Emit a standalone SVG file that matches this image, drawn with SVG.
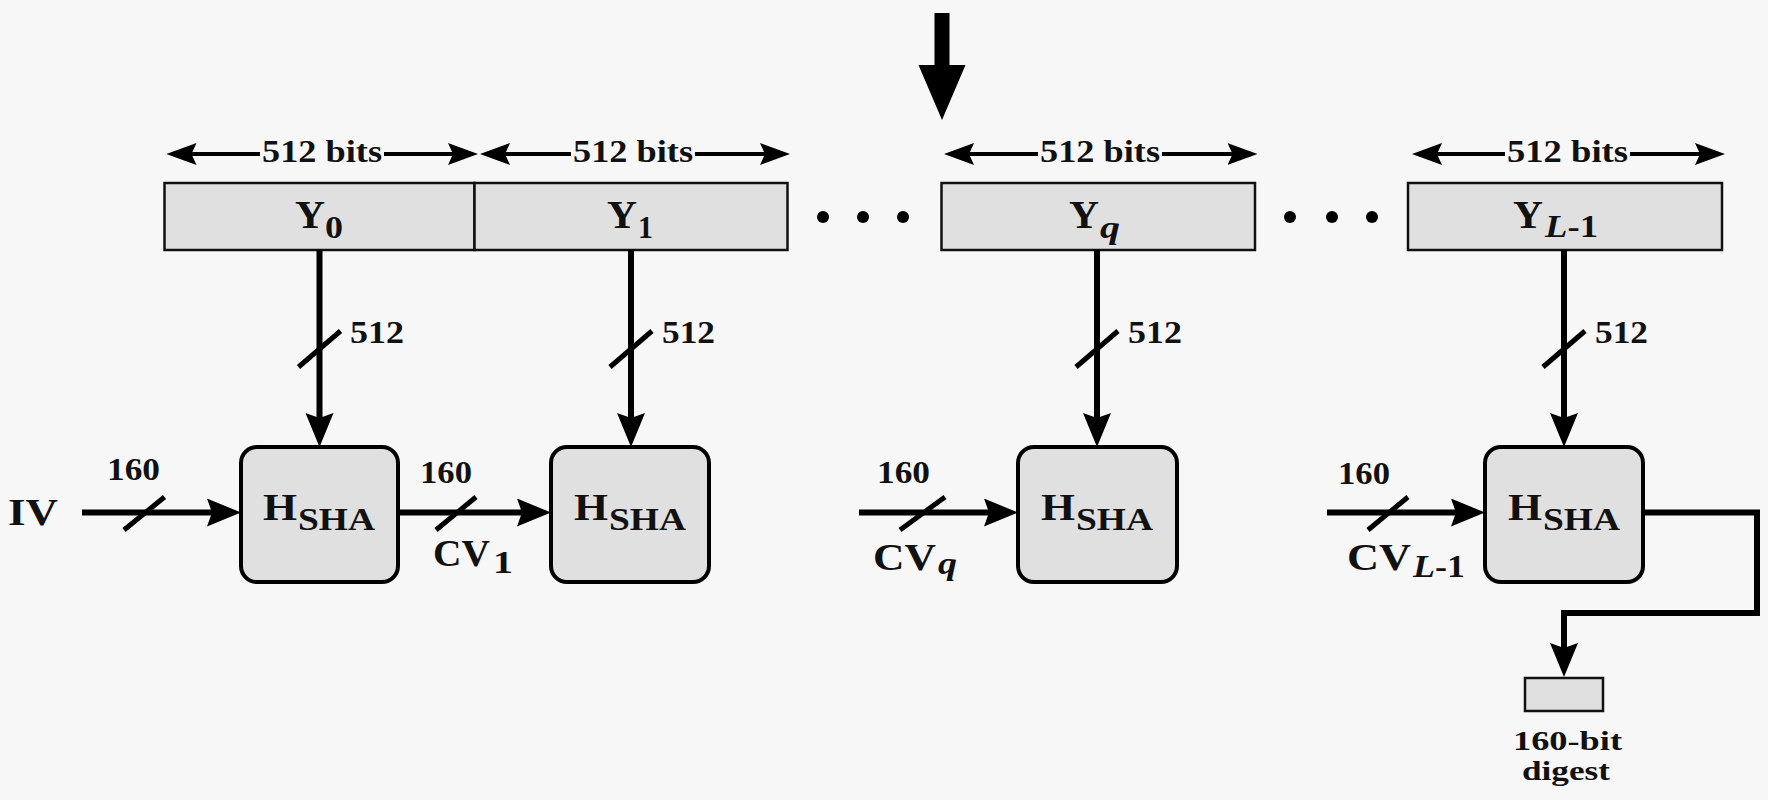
<svg xmlns="http://www.w3.org/2000/svg" width="1768" height="800" viewBox="0 0 1768 800" font-family="Liberation Serif, Times New Roman, serif" font-weight="bold">
<defs>
<style>
.t{fill:#111}
.big{font-size:40px}
.h{font-size:38px}
.sub{font-size:31px}
.num{font-size:32px}
.sm{font-size:28px}
.it{font-style:italic}
.blk{fill:#e0e0e0;stroke:#111;stroke-width:2.5}
.hsha{fill:#e0e0e0;stroke:#000;stroke-width:4}
.ln{fill:none;stroke:#000;stroke-width:6}
.dim{fill:none;stroke:#000;stroke-width:4}
.sl{stroke:#000;stroke-width:5;stroke-linecap:butt}
.dot{fill:#000}
</style>
<marker id="ah" markerUnits="userSpaceOnUse" viewBox="0 0 34 28" markerWidth="34" markerHeight="28" refX="20" refY="14" orient="auto">
<path d="M0,0 L34,14 L0,28 L5,14 z" fill="#000"/>
</marker>
<marker id="dh" markerUnits="userSpaceOnUse" viewBox="0 0 30 22" markerWidth="30" markerHeight="22" refX="18" refY="11" orient="auto">
<path d="M0,0 L30,11 L0,22 L5,11 z" fill="#000"/>
</marker>
</defs>
<rect width="1768" height="800" fill="#f7f7f7"/>

<g id="input-arrow">
<path d="M934.5,13 H949.5 V65 H965.5 L942,120 L918.5,65 H934.5 Z" fill="#000"/>
</g>

<g id="dimensions">
<line class="dim" x1="260" y1="154" x2="178.5" y2="154" marker-end="url(#dh)"/>
<line class="dim" x1="384" y1="154" x2="466" y2="154" marker-end="url(#dh)"/>
<text class="t num" x="262" y="162" textLength="120" lengthAdjust="spacingAndGlyphs">512 bits</text>
<line class="dim" x1="571" y1="154" x2="492" y2="154" marker-end="url(#dh)"/>
<line class="dim" x1="695" y1="154" x2="778" y2="154" marker-end="url(#dh)"/>
<text class="t num" x="573" y="162" textLength="120" lengthAdjust="spacingAndGlyphs">512 bits</text>
<line class="dim" x1="1038" y1="154" x2="956" y2="154" marker-end="url(#dh)"/>
<line class="dim" x1="1162" y1="154" x2="1245.5" y2="154" marker-end="url(#dh)"/>
<text class="t num" x="1040" y="162" textLength="120" lengthAdjust="spacingAndGlyphs">512 bits</text>
<line class="dim" x1="1505" y1="154" x2="1424" y2="154" marker-end="url(#dh)"/>
<line class="dim" x1="1630" y1="154" x2="1713" y2="154" marker-end="url(#dh)"/>
<text class="t num" x="1507" y="162" textLength="121" lengthAdjust="spacingAndGlyphs">512 bits</text>
</g>

<g id="Y0">
<rect class="blk" x="164.5" y="183" width="310" height="67"/>
<text class="t big" x="295" y="228" textLength="30" lengthAdjust="spacingAndGlyphs">Y</text>
<text class="t sub" x="325" y="238" textLength="18" lengthAdjust="spacingAndGlyphs">0</text>
</g>
<g id="Y1">
<rect class="blk" x="474.5" y="183" width="313" height="67"/>
<text class="t big" x="607" y="228" textLength="30" lengthAdjust="spacingAndGlyphs">Y</text>
<text class="t sub" x="638" y="238" textLength="15" lengthAdjust="spacingAndGlyphs">1</text>
</g>
<g id="dots1">
<circle class="dot" cx="823" cy="217" r="6"/>
<circle class="dot" cx="863" cy="217" r="6"/>
<circle class="dot" cx="903" cy="217" r="6"/>
</g>
<g id="Yq">
<rect class="blk" x="941.5" y="183" width="313.5" height="67"/>
<text class="t big" x="1069" y="228" textLength="30" lengthAdjust="spacingAndGlyphs">Y</text>
<text class="t sub it" x="1100" y="238" textLength="20" lengthAdjust="spacingAndGlyphs">q</text>
</g>
<g id="dots2">
<circle class="dot" cx="1290" cy="217" r="6"/>
<circle class="dot" cx="1332" cy="217" r="6"/>
<circle class="dot" cx="1372" cy="217" r="6"/>
</g>
<g id="YL-1">
<rect class="blk" x="1408" y="183" width="314" height="67"/>
<text class="t big" x="1513" y="228" textLength="30" lengthAdjust="spacingAndGlyphs">Y</text>
<text class="t sub" x="1545" y="237" textLength="53" lengthAdjust="spacingAndGlyphs"><tspan class="it">L</tspan>-1</text>
</g>

<g id="connectors">
<line class="ln" x1="319.5" y1="250" x2="319.5" y2="433" marker-end="url(#ah)"/>
<line class="ln" x1="631" y1="250" x2="631" y2="433" marker-end="url(#ah)"/>
<line class="ln" x1="1097" y1="250" x2="1097" y2="433" marker-end="url(#ah)"/>
<line class="ln" x1="1564" y1="250" x2="1564" y2="433" marker-end="url(#ah)"/>
<line class="sl" x1="298.5" y1="367" x2="340.5" y2="331"/>
<line class="sl" x1="610" y1="367" x2="652" y2="331"/>
<line class="sl" x1="1076" y1="367" x2="1118" y2="331"/>
<line class="sl" x1="1543" y1="367" x2="1585" y2="331"/>
<text class="t num" x="350" y="343" textLength="54" lengthAdjust="spacingAndGlyphs">512</text>
<text class="t num" x="662" y="343" textLength="53" lengthAdjust="spacingAndGlyphs">512</text>
<text class="t num" x="1128" y="343" textLength="54" lengthAdjust="spacingAndGlyphs">512</text>
<text class="t num" x="1595" y="343" textLength="53" lengthAdjust="spacingAndGlyphs">512</text>

<line class="ln" x1="82" y1="512.5" x2="227" y2="512.5" marker-end="url(#ah)"/>
<line class="sl" x1="124" y1="530" x2="164.5" y2="497"/>
<text class="t h" x="8" y="525" textLength="50" lengthAdjust="spacingAndGlyphs">IV</text>
<text class="t num" x="107" y="480" textLength="53" lengthAdjust="spacingAndGlyphs">160</text>

<line class="ln" x1="398" y1="512.5" x2="537" y2="512.5" marker-end="url(#ah)"/>
<line class="sl" x1="436" y1="530" x2="476" y2="497"/>
<text class="t num" x="420" y="483" textLength="52" lengthAdjust="spacingAndGlyphs">160</text>
<text class="t h" x="433" y="566" textLength="57" lengthAdjust="spacingAndGlyphs">CV</text>
<text class="t sub" x="493" y="573" textLength="20" lengthAdjust="spacingAndGlyphs">1</text>

<line class="ln" x1="859" y1="512.5" x2="1004" y2="512.5" marker-end="url(#ah)"/>
<line class="sl" x1="900" y1="530" x2="945" y2="497"/>
<text class="t num" x="877" y="483" textLength="53" lengthAdjust="spacingAndGlyphs">160</text>
<text class="t h" x="873" y="570" textLength="63" lengthAdjust="spacingAndGlyphs">CV</text>
<text class="t sub it" x="938" y="574" textLength="19" lengthAdjust="spacingAndGlyphs">q</text>

<line class="ln" x1="1327" y1="512.5" x2="1471" y2="512.5" marker-end="url(#ah)"/>
<line class="sl" x1="1368" y1="530" x2="1408" y2="497"/>
<text class="t num" x="1338" y="484" textLength="52" lengthAdjust="spacingAndGlyphs">160</text>
<text class="t h" x="1347" y="570" textLength="64" lengthAdjust="spacingAndGlyphs">CV</text>
<text class="t sub" x="1413" y="577" textLength="52" lengthAdjust="spacingAndGlyphs"><tspan class="it">L</tspan>-1</text>

<path class="ln" d="M1643,512.5 H1757 V613 H1564 V663" marker-end="url(#ah)"/>
</g>

<g id="H1">
<rect class="hsha" x="241" y="447" width="157" height="135" rx="16"/>
<text class="t h" x="263" y="520" textLength="34" lengthAdjust="spacingAndGlyphs">H</text>
<text class="t sub" x="298" y="530" textLength="77" lengthAdjust="spacingAndGlyphs">SHA</text>
</g>
<g id="H2">
<rect class="hsha" x="551" y="447" width="158" height="135" rx="16"/>
<text class="t h" x="574" y="520" textLength="34" lengthAdjust="spacingAndGlyphs">H</text>
<text class="t sub" x="609" y="530" textLength="77" lengthAdjust="spacingAndGlyphs">SHA</text>
</g>
<g id="H3">
<rect class="hsha" x="1018" y="447" width="159" height="135" rx="16"/>
<text class="t h" x="1041" y="520" textLength="34" lengthAdjust="spacingAndGlyphs">H</text>
<text class="t sub" x="1076" y="530" textLength="77" lengthAdjust="spacingAndGlyphs">SHA</text>
</g>
<g id="H4">
<rect class="hsha" x="1485" y="447" width="158" height="135" rx="16"/>
<text class="t h" x="1508" y="520" textLength="34" lengthAdjust="spacingAndGlyphs">H</text>
<text class="t sub" x="1543" y="530" textLength="77" lengthAdjust="spacingAndGlyphs">SHA</text>
</g>

<g id="digest">
<rect class="blk" x="1525" y="678" width="78" height="33"/>
<text class="t sm" x="1513" y="750" textLength="109" lengthAdjust="spacingAndGlyphs">160-bit</text>
<text class="t sm" x="1522" y="780" textLength="88" lengthAdjust="spacingAndGlyphs">digest</text>
</g>
</svg>
